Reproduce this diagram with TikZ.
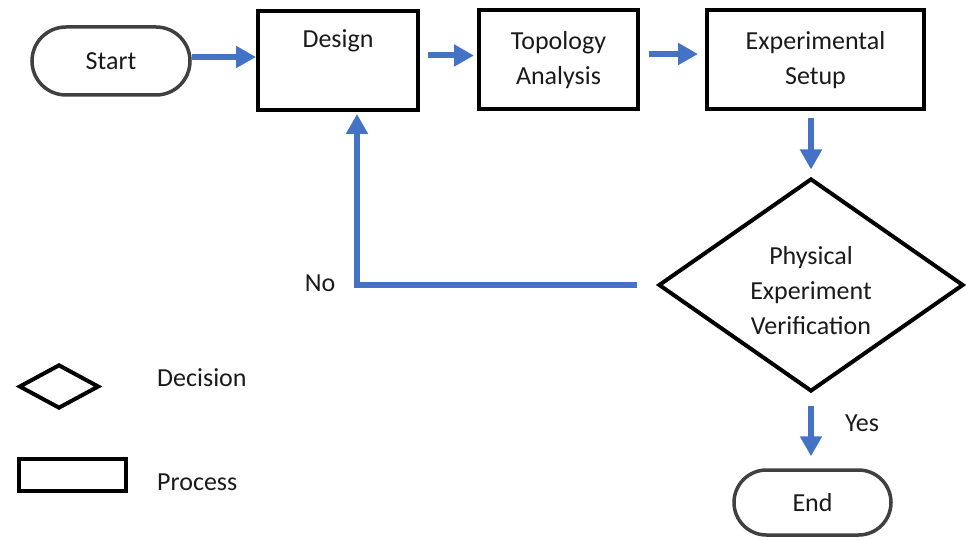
\documentclass[tikz,border=0pt]{standalone}
\usepackage{fontspec}
\setmainfont{Carlito}
\usetikzlibrary{arrows.meta,shapes.geometric,shapes.misc}
\definecolor{flowblue}{HTML}{4472C4}
\definecolor{termgray}{HTML}{404040}
\definecolor{txt}{HTML}{1A1A1A}
\begin{document}
\begin{tikzpicture}[x=1pt,y=-1pt,
  every node/.style={font=\fontsize{26}{35}\selectfont, text=txt},
  procbox/.style={draw=black, line width=4pt, rectangle, inner sep=0pt, align=center},
  termbox/.style={draw=termgray, line width=3.5pt, rounded rectangle, inner sep=0pt},
  decbox/.style={draw=black, line width=4pt, diamond, shape aspect=1.43, inner sep=0pt, align=center},
  flow/.style={draw=flowblue, line width=6pt, -{Triangle[width=21pt,length=20pt]}},
  plain/.style={inner sep=0pt}
]
\useasboundingbox (0,0) rectangle (966,540);

% main nodes
\node[termbox, minimum width=158pt, minimum height=68pt] (start) at (111,61) {Start};
\node[procbox, minimum width=160pt, minimum height=99pt] (design) at (338,60.5) {};
\node[plain, anchor=base] (designlbl) at (338,48) {Design};
\node[procbox, minimum width=159pt, minimum height=99pt] (topo) at (558.5,60) {Topology\\Analysis};
\node[procbox, minimum width=217pt, minimum height=99pt] (exp) at (815.5,60) {Experimental\\Setup};
\node[decbox, minimum width=305pt, minimum height=213pt] (dec) at (811,285) {\rule{0pt}{29pt}Physical\\Experiment\\Verification};
\node[termbox, minimum width=157pt, minimum height=65pt] (end) at (812.5,502.5) {End};

% legend
\node[decbox, minimum width=80pt, minimum height=44pt] (legdec) at (59,386.5) {};
\node[procbox, minimum width=107pt, minimum height=32pt] (legproc) at (72.5,475) {};
\node[plain, anchor=west] (legdectxt) at (157,378) {Decision};
\node[plain, anchor=west] (legproctxt) at (157,482) {Process};

% connectors
\coordinate (a1) at ([yshift=4pt]start.east);
\draw[flow] (a1) -- (a1 -| design.west);
\coordinate (a2) at ([yshift=5pt]design.east);
\draw[flow, shorten <=8pt, shorten >=3pt] (a2) -- (a2 -| topo.west);
\coordinate (a3) at ([yshift=6pt]topo.east);
\draw[flow, shorten <=9pt, shorten >=7pt] (a3) -- (a3 -| exp.west);
\coordinate (a4) at (exp.south -| dec.north);
\draw[flow, shorten <=7pt, shorten >=7pt] (a4) -- (dec.north);
\coordinate (nocorner) at (357,285);
\draw[flow, shorten <=20pt, shorten >=2pt] (dec.west) -- (nocorner) -- (nocorner |- design.south);
\coordinate (a5) at (dec.south |- end.north);
\draw[flow, shorten <=12pt, shorten >=12pt] (dec.south) -- (a5);

% branch labels
\node[plain] (nolbl) at (320,283) {No};
\node[plain] (yeslbl) at (862,423) {Yes};
\end{tikzpicture}
\end{document}
